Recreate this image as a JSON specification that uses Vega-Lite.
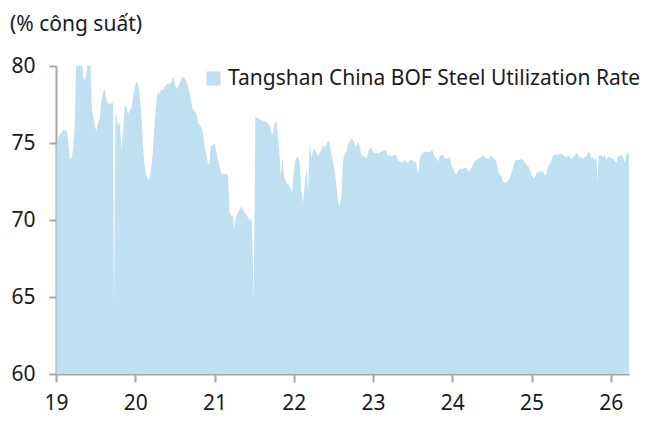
{
  "$schema": "https://vega.github.io/schema/vega-lite/v6.json",
  "width": 573,
  "height": 308,
  "autosize": {"type": "none"},
  "padding": {"left": 56, "top": 66, "right": 35, "bottom": 47},
  "background": "white",
  "title": {
    "text": "(% công suất)",
    "anchor": "start",
    "frame": "group",
    "dx": -46,
    "offset": 20,
    "font": "Noto Sans",
    "fontSize": 21,
    "fontWeight": "normal",
    "color": "#1a1a1a"
  },
  "data": {
    "values": [
      {"year": 2019.005, "rate": 74.8}, {"year": 2019.034, "rate": 75.4}, {"year": 2019.088, "rate": 75.86},
      {"year": 2019.131, "rate": 75.8}, {"year": 2019.151, "rate": 75.4}, {"year": 2019.173, "rate": 74.0},
      {"year": 2019.194, "rate": 74.0}, {"year": 2019.215, "rate": 74.56}, {"year": 2019.236, "rate": 76.07},
      {"year": 2019.257, "rate": 81.0}, {"year": 2019.278, "rate": 82.0}, {"year": 2019.299, "rate": 82.0},
      {"year": 2019.321, "rate": 80.8}, {"year": 2019.341, "rate": 79.4}, {"year": 2019.362, "rate": 79.05},
      {"year": 2019.384, "rate": 79.4}, {"year": 2019.404, "rate": 80.6}, {"year": 2019.425, "rate": 81.0},
      {"year": 2019.438, "rate": 79.7}, {"year": 2019.454, "rate": 77.15}, {"year": 2019.479, "rate": 76.4},
      {"year": 2019.51, "rate": 75.75}, {"year": 2019.53, "rate": 76.4}, {"year": 2019.551, "rate": 76.5},
      {"year": 2019.573, "rate": 77.8}, {"year": 2019.594, "rate": 78.3}, {"year": 2019.615, "rate": 78.5},
      {"year": 2019.636, "rate": 77.8}, {"year": 2019.656, "rate": 77.6}, {"year": 2019.69, "rate": 77.5},
      {"year": 2019.707, "rate": 77.7}, {"year": 2019.719, "rate": 77.5}, {"year": 2019.732, "rate": 64.1},
      {"year": 2019.75, "rate": 76.7}, {"year": 2019.762, "rate": 76.9}, {"year": 2019.782, "rate": 76.1},
      {"year": 2019.804, "rate": 76.4}, {"year": 2019.825, "rate": 74.56}, {"year": 2019.845, "rate": 75.6},
      {"year": 2019.867, "rate": 77.3}, {"year": 2019.888, "rate": 77.4}, {"year": 2019.909, "rate": 76.9},
      {"year": 2019.93, "rate": 77.1}, {"year": 2019.951, "rate": 77.3}, {"year": 2019.972, "rate": 78.0},
      {"year": 2019.993, "rate": 78.66}, {"year": 2020.015, "rate": 78.98}, {"year": 2020.035, "rate": 78.9},
      {"year": 2020.056, "rate": 78.3}, {"year": 2020.078, "rate": 76.7}, {"year": 2020.098, "rate": 74.78},
      {"year": 2020.119, "rate": 73.5}, {"year": 2020.141, "rate": 72.84}, {"year": 2020.161, "rate": 72.6},
      {"year": 2020.182, "rate": 72.7}, {"year": 2020.204, "rate": 73.5}, {"year": 2020.224, "rate": 74.56},
      {"year": 2020.245, "rate": 76.3}, {"year": 2020.267, "rate": 77.8}, {"year": 2020.287, "rate": 78.34},
      {"year": 2020.309, "rate": 78.2}, {"year": 2020.33, "rate": 78.5}, {"year": 2020.35, "rate": 78.4},
      {"year": 2020.372, "rate": 78.66}, {"year": 2020.393, "rate": 78.8}, {"year": 2020.413, "rate": 78.88},
      {"year": 2020.435, "rate": 78.8}, {"year": 2020.456, "rate": 79.0}, {"year": 2020.476, "rate": 79.3},
      {"year": 2020.498, "rate": 78.9}, {"year": 2020.519, "rate": 78.5}, {"year": 2020.539, "rate": 78.66},
      {"year": 2020.561, "rate": 78.9}, {"year": 2020.582, "rate": 79.14}, {"year": 2020.603, "rate": 79.3},
      {"year": 2020.624, "rate": 79.2}, {"year": 2020.645, "rate": 79.0}, {"year": 2020.666, "rate": 78.7},
      {"year": 2020.687, "rate": 78.2}, {"year": 2020.709, "rate": 77.6}, {"year": 2020.729, "rate": 77.15},
      {"year": 2020.75, "rate": 77.05}, {"year": 2020.772, "rate": 76.9}, {"year": 2020.792, "rate": 76.3},
      {"year": 2020.813, "rate": 76.2}, {"year": 2020.835, "rate": 75.97}, {"year": 2020.855, "rate": 75.6},
      {"year": 2020.876, "rate": 74.78}, {"year": 2020.898, "rate": 74.13}, {"year": 2020.918, "rate": 73.7},
      {"year": 2020.939, "rate": 73.6}, {"year": 2020.952, "rate": 74.8}, {"year": 2020.981, "rate": 74.85},
      {"year": 2021.003, "rate": 75.0}, {"year": 2021.024, "rate": 74.45}, {"year": 2021.044, "rate": 73.85},
      {"year": 2021.066, "rate": 73.5}, {"year": 2021.087, "rate": 73.0}, {"year": 2021.107, "rate": 73.0},
      {"year": 2021.129, "rate": 73.0}, {"year": 2021.15, "rate": 73.0}, {"year": 2021.17, "rate": 72.9},
      {"year": 2021.192, "rate": 70.47}, {"year": 2021.213, "rate": 70.25}, {"year": 2021.233, "rate": 70.3},
      {"year": 2021.246, "rate": 69.4}, {"year": 2021.264, "rate": 70.0}, {"year": 2021.28, "rate": 70.3},
      {"year": 2021.297, "rate": 70.47}, {"year": 2021.318, "rate": 70.68}, {"year": 2021.339, "rate": 70.9},
      {"year": 2021.36, "rate": 70.68}, {"year": 2021.381, "rate": 70.47}, {"year": 2021.403, "rate": 70.36},
      {"year": 2021.423, "rate": 70.14}, {"year": 2021.444, "rate": 70.0}, {"year": 2021.466, "rate": 70.1},
      {"year": 2021.478, "rate": 68.5}, {"year": 2021.495, "rate": 64.85}, {"year": 2021.516, "rate": 76.7},
      {"year": 2021.549, "rate": 76.6}, {"year": 2021.57, "rate": 76.55}, {"year": 2021.592, "rate": 76.5},
      {"year": 2021.612, "rate": 76.45}, {"year": 2021.633, "rate": 76.4}, {"year": 2021.655, "rate": 76.35},
      {"year": 2021.675, "rate": 76.3}, {"year": 2021.697, "rate": 76.1}, {"year": 2021.718, "rate": 75.64},
      {"year": 2021.738, "rate": 75.6}, {"year": 2021.76, "rate": 76.3}, {"year": 2021.781, "rate": 76.4},
      {"year": 2021.801, "rate": 75.4}, {"year": 2021.823, "rate": 74.1}, {"year": 2021.835, "rate": 72.84},
      {"year": 2021.857, "rate": 74.1}, {"year": 2021.877, "rate": 72.84}, {"year": 2021.907, "rate": 72.4},
      {"year": 2021.936, "rate": 72.3}, {"year": 2021.962, "rate": 71.97}, {"year": 2021.978, "rate": 71.76},
      {"year": 2022.003, "rate": 73.27}, {"year": 2022.021, "rate": 73.9}, {"year": 2022.033, "rate": 74.03},
      {"year": 2022.054, "rate": 74.13}, {"year": 2022.075, "rate": 73.7}, {"year": 2022.096, "rate": 71.86},
      {"year": 2022.117, "rate": 71.1}, {"year": 2022.138, "rate": 72.3}, {"year": 2022.16, "rate": 73.38},
      {"year": 2022.18, "rate": 71.9}, {"year": 2022.201, "rate": 75.1}, {"year": 2022.223, "rate": 74.13},
      {"year": 2022.243, "rate": 74.45}, {"year": 2022.264, "rate": 74.67}, {"year": 2022.286, "rate": 74.35},
      {"year": 2022.306, "rate": 74.13}, {"year": 2022.327, "rate": 74.35}, {"year": 2022.349, "rate": 74.56},
      {"year": 2022.369, "rate": 74.9}, {"year": 2022.39, "rate": 74.67}, {"year": 2022.412, "rate": 74.9},
      {"year": 2022.432, "rate": 75.2}, {"year": 2022.454, "rate": 75.0}, {"year": 2022.475, "rate": 74.24},
      {"year": 2022.495, "rate": 73.8}, {"year": 2022.517, "rate": 73.16}, {"year": 2022.538, "rate": 72.3},
      {"year": 2022.558, "rate": 71.2}, {"year": 2022.58, "rate": 70.9}, {"year": 2022.601, "rate": 71.44},
      {"year": 2022.621, "rate": 73.8}, {"year": 2022.643, "rate": 74.35}, {"year": 2022.664, "rate": 74.45},
      {"year": 2022.684, "rate": 74.9}, {"year": 2022.706, "rate": 75.1}, {"year": 2022.727, "rate": 75.28},
      {"year": 2022.748, "rate": 75.2}, {"year": 2022.769, "rate": 74.9}, {"year": 2022.79, "rate": 74.8},
      {"year": 2022.811, "rate": 75.1}, {"year": 2022.832, "rate": 74.8}, {"year": 2022.853, "rate": 74.24},
      {"year": 2022.874, "rate": 74.13}, {"year": 2022.895, "rate": 74.13}, {"year": 2022.917, "rate": 74.0},
      {"year": 2022.937, "rate": 74.35}, {"year": 2022.958, "rate": 74.67}, {"year": 2022.98, "rate": 74.67},
      {"year": 2023.0, "rate": 74.45}, {"year": 2023.021, "rate": 74.35}, {"year": 2023.043, "rate": 74.35},
      {"year": 2023.063, "rate": 74.3}, {"year": 2023.085, "rate": 74.35}, {"year": 2023.106, "rate": 74.45},
      {"year": 2023.126, "rate": 74.5}, {"year": 2023.148, "rate": 74.56}, {"year": 2023.169, "rate": 74.45},
      {"year": 2023.189, "rate": 74.13}, {"year": 2023.211, "rate": 74.24}, {"year": 2023.232, "rate": 74.07},
      {"year": 2023.252, "rate": 74.2}, {"year": 2023.274, "rate": 74.24}, {"year": 2023.295, "rate": 74.2},
      {"year": 2023.315, "rate": 73.9}, {"year": 2023.337, "rate": 73.8}, {"year": 2023.358, "rate": 73.7},
      {"year": 2023.378, "rate": 73.8}, {"year": 2023.4, "rate": 73.9}, {"year": 2023.421, "rate": 73.75},
      {"year": 2023.442, "rate": 73.7}, {"year": 2023.463, "rate": 73.9}, {"year": 2023.484, "rate": 73.9},
      {"year": 2023.505, "rate": 73.85}, {"year": 2023.526, "rate": 73.8}, {"year": 2023.547, "rate": 73.7},
      {"year": 2023.568, "rate": 72.9}, {"year": 2023.589, "rate": 74.03}, {"year": 2023.611, "rate": 74.24},
      {"year": 2023.631, "rate": 74.35}, {"year": 2023.652, "rate": 74.45}, {"year": 2023.674, "rate": 74.4},
      {"year": 2023.694, "rate": 74.45}, {"year": 2023.716, "rate": 74.4}, {"year": 2023.737, "rate": 74.56},
      {"year": 2023.757, "rate": 74.45}, {"year": 2023.779, "rate": 74.13}, {"year": 2023.8, "rate": 73.98},
      {"year": 2023.82, "rate": 73.8}, {"year": 2023.842, "rate": 74.13}, {"year": 2023.863, "rate": 74.24},
      {"year": 2023.883, "rate": 74.2}, {"year": 2023.905, "rate": 74.03}, {"year": 2023.926, "rate": 73.98},
      {"year": 2023.946, "rate": 74.03}, {"year": 2023.968, "rate": 74.13}, {"year": 2023.989, "rate": 73.6},
      {"year": 2024.01, "rate": 73.38}, {"year": 2024.031, "rate": 73.05}, {"year": 2024.052, "rate": 72.94},
      {"year": 2024.073, "rate": 73.16}, {"year": 2024.094, "rate": 73.33}, {"year": 2024.115, "rate": 73.33},
      {"year": 2024.136, "rate": 73.33}, {"year": 2024.157, "rate": 73.4}, {"year": 2024.178, "rate": 73.38},
      {"year": 2024.199, "rate": 73.16}, {"year": 2024.22, "rate": 73.2}, {"year": 2024.242, "rate": 73.38},
      {"year": 2024.262, "rate": 73.6}, {"year": 2024.283, "rate": 73.8}, {"year": 2024.305, "rate": 73.9},
      {"year": 2024.325, "rate": 73.98}, {"year": 2024.346, "rate": 74.03}, {"year": 2024.368, "rate": 74.13},
      {"year": 2024.388, "rate": 74.2}, {"year": 2024.409, "rate": 74.13}, {"year": 2024.431, "rate": 73.98},
      {"year": 2024.451, "rate": 73.98}, {"year": 2024.472, "rate": 74.03}, {"year": 2024.494, "rate": 74.2},
      {"year": 2024.514, "rate": 73.98}, {"year": 2024.536, "rate": 73.98}, {"year": 2024.557, "rate": 73.8},
      {"year": 2024.577, "rate": 73.16}, {"year": 2024.599, "rate": 72.94}, {"year": 2024.62, "rate": 72.84},
      {"year": 2024.64, "rate": 72.5}, {"year": 2024.662, "rate": 72.4}, {"year": 2024.683, "rate": 72.45},
      {"year": 2024.703, "rate": 72.55}, {"year": 2024.725, "rate": 72.73}, {"year": 2024.746, "rate": 73.05},
      {"year": 2024.766, "rate": 73.38}, {"year": 2024.788, "rate": 73.8}, {"year": 2024.809, "rate": 73.9},
      {"year": 2024.83, "rate": 73.9}, {"year": 2024.851, "rate": 73.9}, {"year": 2024.872, "rate": 73.98},
      {"year": 2024.893, "rate": 73.9}, {"year": 2024.914, "rate": 73.7}, {"year": 2024.936, "rate": 73.6},
      {"year": 2024.956, "rate": 73.5}, {"year": 2024.977, "rate": 73.27}, {"year": 2024.999, "rate": 72.94},
      {"year": 2025.019, "rate": 72.73}, {"year": 2025.04, "rate": 72.73}, {"year": 2025.062, "rate": 73.05},
      {"year": 2025.082, "rate": 73.1}, {"year": 2025.103, "rate": 73.16}, {"year": 2025.125, "rate": 73.1},
      {"year": 2025.145, "rate": 73.16}, {"year": 2025.166, "rate": 72.9}, {"year": 2025.188, "rate": 73.0},
      {"year": 2025.208, "rate": 73.5}, {"year": 2025.23, "rate": 73.6}, {"year": 2025.251, "rate": 73.9},
      {"year": 2025.271, "rate": 74.2}, {"year": 2025.293, "rate": 74.24}, {"year": 2025.314, "rate": 74.24},
      {"year": 2025.334, "rate": 74.2}, {"year": 2025.356, "rate": 74.3}, {"year": 2025.377, "rate": 74.3},
      {"year": 2025.397, "rate": 74.24}, {"year": 2025.419, "rate": 74.13}, {"year": 2025.44, "rate": 74.07},
      {"year": 2025.461, "rate": 74.2}, {"year": 2025.482, "rate": 74.13}, {"year": 2025.503, "rate": 73.98},
      {"year": 2025.524, "rate": 74.07}, {"year": 2025.545, "rate": 74.2}, {"year": 2025.566, "rate": 74.35},
      {"year": 2025.587, "rate": 74.24}, {"year": 2025.608, "rate": 74.03}, {"year": 2025.63, "rate": 74.07},
      {"year": 2025.65, "rate": 73.98}, {"year": 2025.671, "rate": 74.07}, {"year": 2025.693, "rate": 74.13},
      {"year": 2025.713, "rate": 74.4}, {"year": 2025.734, "rate": 74.35}, {"year": 2025.756, "rate": 74.03},
      {"year": 2025.776, "rate": 74.07}, {"year": 2025.797, "rate": 73.9}, {"year": 2025.819, "rate": 74.03},
      {"year": 2025.831, "rate": 72.5}, {"year": 2025.848, "rate": 74.2}, {"year": 2025.86, "rate": 74.2},
      {"year": 2025.882, "rate": 74.2}, {"year": 2025.902, "rate": 74.07}, {"year": 2025.924, "rate": 74.2},
      {"year": 2025.945, "rate": 73.9}, {"year": 2025.965, "rate": 74.13}, {"year": 2025.987, "rate": 74.07},
      {"year": 2026.008, "rate": 74.03}, {"year": 2026.028, "rate": 73.98}, {"year": 2026.05, "rate": 73.8},
      {"year": 2026.071, "rate": 73.7}, {"year": 2026.092, "rate": 74.13}, {"year": 2026.113, "rate": 74.2},
      {"year": 2026.134, "rate": 74.2}, {"year": 2026.155, "rate": 74.13}, {"year": 2026.176, "rate": 73.7},
      {"year": 2026.198, "rate": 74.2}, {"year": 2026.218, "rate": 74.35}, {"year": 2026.23, "rate": 74.4}
    ]
  },
  "mark": {"type": "area", "color": "#bee0f1", "clip": true, "interpolate": "linear"},
  "encoding": {
    "x": {
      "field": "year",
      "type": "quantitative",
      "scale": {"domain": [2019, 2026.23], "nice": false, "zero": false},
      "axis": {
        "title": null,
        "values": [2019, 2020, 2021, 2022, 2023, 2024, 2025, 2026],
        "labelExpr": "substring(toString(datum.value), 2)",
        "tickSize": 8,
        "labelPadding": 10,
        "labelFlush": false
      }
    },
    "y": {
      "field": "rate",
      "type": "quantitative",
      "scale": {"domain": [60, 80], "nice": false, "zero": false},
      "axis": {
        "title": null,
        "values": [60, 65, 70, 75, 80],
        "tickSize": 7,
        "labelPadding": 14
      }
    },
    "y2": {"datum": 60},
    "color": {
      "datum": "Tangshan China BOF Steel Utilization Rate",
      "type": "nominal",
      "scale": {"range": ["#bee0f1"]},
      "legend": {
        "title": null,
        "orient": "none",
        "legendX": 147,
        "legendY": 2,
        "padding": 0,
        "symbolType": "square",
        "symbolSize": 200,
        "symbolStrokeWidth": 0,
        "labelFont": "Noto Sans",
        "labelFontSize": 21,
        "labelColor": "#1a1a1a",
        "labelOffset": 4,
        "labelLimit": 600
      }
    }
  },
  "config": {
    "view": {"stroke": null},
    "axis": {
      "grid": false,
      "domainColor": "#a6a6a6",
      "domainWidth": 2,
      "tickColor": "#a6a6a6",
      "tickWidth": 2,
      "labelFont": "Noto Sans",
      "labelFontSize": 21,
      "labelColor": "#1a1a1a"
    }
  }
}
